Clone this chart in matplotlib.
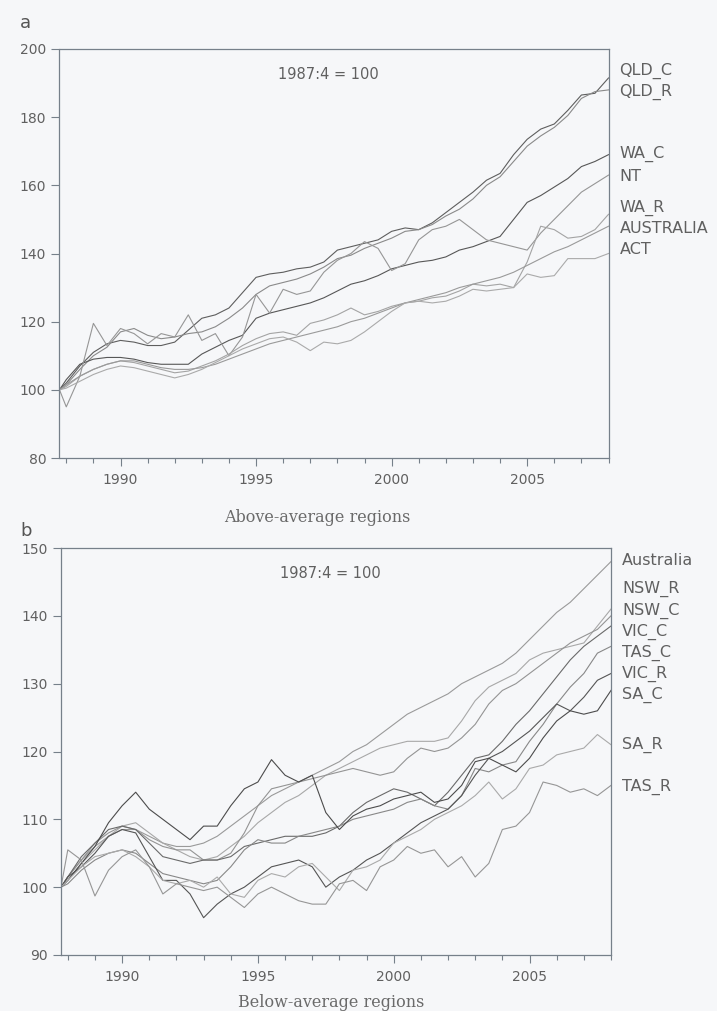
import numpy as np
import matplotlib
matplotlib.use("Agg")
import matplotlib.pyplot as plt
from matplotlib.ticker import MultipleLocator, FixedLocator
import matplotlib.transforms as mtransforms

# half-yearly observations, 1987:4 = 100
years = [1987.75] + list(np.arange(1988.0, 2008.01, 0.5))

australia = [100, 101.5, 104, 106, 107.5, 108.5, 108.5, 107.5, 106.5, 106,
             106, 106.5, 107.5, 109, 110.5, 112, 113.5, 114.5, 115.5, 116.5,
             117.5, 118.5, 120, 121, 122.5, 124, 125.5, 126.5, 127.5, 128.5,
             130, 131, 132, 133, 134.5, 136.5, 138.5, 140.5, 142, 144,
             146, 148]

# panel a - above-average regions
qld_c = [100, 102, 107, 111, 113.5, 114.5, 114, 113, 113, 114,
         117.5, 121, 122, 124, 128.5, 133, 134, 134.5, 135.5, 136,
         137.5, 141, 142, 143, 144, 146.5, 147.5, 147, 149, 152,
         155, 158, 161.5, 163.5, 169, 173.5, 176.5, 178, 182, 186.5,
         187, 191.5]
qld_r = [100, 101.5, 106, 110, 112.5, 117, 118, 116, 115, 115.5,
         116.5, 117, 118.5, 121, 124, 128, 130.5, 131.5, 132.5, 134,
         136, 138.5, 139.5, 141.5, 143, 144.5, 146.5, 147, 148.5, 151,
         153, 156, 160, 162.5, 167, 171.5, 174.5, 177, 180.5, 185.5,
         187.5, 188]
nt = [100, 95, 104, 119.5, 113, 118, 116.5, 113.5, 116.5, 115.5,
      122, 114.5, 116.5, 110, 115.5, 128, 122.5, 129.5, 128, 129,
      134.5, 138, 140, 143.5, 141.5, 135, 137, 144, 147, 148,
      150, 147, 144, 143, 142, 141, 146, 150, 154, 158,
      160.5, 163]
wa_c = [100, 103, 107.5, 109, 109.5, 109.5, 109, 108, 107.5, 107.5,
        107.5, 110.5, 112.5, 114.5, 116, 121, 122.5, 123.5, 124.5, 125.5,
        127, 129, 131, 132, 133.5, 135.5, 136.5, 137.5, 138, 139,
        141, 142, 143.5, 145, 150, 155, 157, 159.5, 162, 165.5,
        167, 169]
wa_r = [100, 101, 104, 106, 107.5, 108.5, 108, 107, 106, 105,
        105.5, 107, 108.5, 110.5, 113, 115, 116.5, 117, 116, 119.5,
        120.5, 122, 124, 122, 123, 124.5, 125.5, 126, 127, 127.5,
        129, 131, 130.5, 131, 130, 137.5, 148, 147, 144.5, 145,
        147, 151.5]
act = [100, 100.5, 102.5, 104.5, 106, 107, 106.5, 105.5, 104.5, 103.5,
       104.5, 106, 108, 110, 112, 113.5, 115, 115.5, 114, 111.5,
       114, 113.5, 114.5, 117, 120, 123, 125.5, 126, 125.5, 126,
       127.5, 129.5, 129, 129.5, 130, 134, 133, 133.5, 138.5, 138.5,
       138.5, 140]

# panel b - below-average regions
nsw_r = [100, 101, 103.5, 105.5, 107.5, 109, 109.5, 108, 106.5, 105.5,
         104.5, 104, 104.5, 106, 107.5, 109.5, 111, 112.5, 113.5, 115,
         116.5, 117.5, 118.5, 119.5, 120.5, 121, 121.5, 121.5, 121.5, 122,
         124.5, 127.5, 129.5, 130.5, 131.5, 133.5, 134.5, 135, 135.5, 136,
         138.5, 141]
nsw_c = [100, 101.5, 104, 106.5, 108, 109, 108.5, 107, 106, 105.5,
         105.5, 104, 104, 105, 108, 112, 114.5, 115, 115.5, 116,
         116.5, 117, 117.5, 117, 116.5, 117, 119, 120.5, 120, 120.5,
         122, 124, 127, 129, 130, 131.5, 133, 134.5, 136, 137,
         138, 140]
vic_c = [100, 101.5, 104.5, 106.5, 108.5, 109, 108.5, 106.5, 104.5, 104,
         103.5, 104, 104, 104.5, 106, 106.5, 107, 107.5, 107.5, 107.5,
         108, 109, 111, 112.5, 113.5, 114.5, 114, 113, 112, 114,
         116.5, 119, 119.5, 121.5, 124, 126, 128.5, 131, 133.5, 135.5,
         137, 138.5]
tas_c = [100, 100.5, 102.5, 104, 105, 105.5, 105, 103.5, 102, 101.5,
         101, 100.5, 101, 103, 105.5, 107, 106.5, 106.5, 107.5, 108,
         108.5, 109, 110, 110.5, 111, 111.5, 112.5, 113, 112, 111.5,
         113.5, 117.5, 117, 118, 118.5, 121.5, 124, 127, 129.5, 131.5,
         134.5, 135.5]
vic_r = [100, 101.5, 103, 105, 107.5, 108.5, 108, 104.5, 101, 101,
         99, 95.5, 97.5, 99, 100, 101.5, 103, 103.5, 104, 103,
         100, 101.5, 102.5, 104, 105, 106.5, 108, 109.5, 110.5, 111.5,
         113.5, 116.5, 119, 120, 121.5, 123, 125, 127, 126, 128,
         130.5, 131.5]
sa_c = [100, 101, 103.5, 106, 109.5, 112, 114, 111.5, 110, 108.5,
        107, 109, 109, 112, 114.5, 115.5, 118.8, 116.5, 115.5, 116.5,
        111, 108.5, 110.5, 111.5, 112, 113, 113.5, 114, 112.5, 113,
        115, 118.5, 119, 118, 117, 119, 122, 124.5, 126, 125.5,
        126, 129]
sa_r = [100, 101, 103, 104.5, 105, 105.5, 104.5, 103, 101, 100.5,
        101, 100, 101.5, 99, 98.5, 101, 102, 101.5, 103, 103.5,
        101.5, 99.5, 102.5, 103, 104, 106.5, 107.5, 108.5, 110, 111,
        112, 113.5, 115.5, 113, 114.5, 117.5, 118, 119.5, 120, 120.5,
        122.5, 121]
tas_r = [100, 105.5, 104, 98.7, 102.5, 104.5, 105.5, 103, 99, 100.5,
         100, 99.5, 100, 98.5, 97, 99, 100, 99, 98, 97.5,
         97.5, 100.5, 101, 99.5, 103, 104, 106, 105, 105.5, 103,
         104.5, 101.5, 103.5, 108.5, 109, 111, 115.5, 115, 114, 114.5,
         113.5, 115]

series_a = [qld_c, qld_r, wa_c, nt, wa_r, australia, act]
colors_a = ['#5e5e5e', '#8a8a8a', '#575757', '#969696', '#a4a4a4', '#9a9a9a', '#aaaaaa']
labels_a = ['QLD_C', 'QLD_R', 'WA_C', 'NT', 'WA_R', 'AUSTRALIA', 'ACT']
label_y_a = [193.5, 187.4, 169.2, 162.7, 153.3, 147.2, 141.3]

series_b = [australia, nsw_r, nsw_c, vic_c, tas_c, vic_r, sa_c, sa_r, tas_r]
colors_b = ['#9a9a9a', '#a8a8a8', '#949494', '#6a6a6a', '#888888', '#555555', '#4c4c4c', '#aaaaaa', '#969696']
labels_b = ['Australia', 'NSW_R', 'NSW_C', 'VIC_C', 'TAS_C', 'VIC_R', 'SA_C', 'SA_R', 'TAS_R']
label_y_b = [148.1, 143.9, 140.8, 137.6, 134.5, 131.5, 128.3, 120.9, 114.8]

bg = '#f6f7f9'
axis_col = '#76808a'
text_col = '#606060'
plt.rcParams['font.family'] = ['DejaVu Sans']

fig = plt.figure(figsize=(7.17, 10.11), dpi=100, facecolor=bg)
W, H = 717.0, 1011.0
ax_a = fig.add_axes([59.5 / W, 1 - 458 / H, 549 / W, 409 / H], facecolor=bg)
ax_b = fig.add_axes([61 / W, 1 - 955 / H, 550 / W, 407 / H], facecolor=bg)


def style_axes(ax, ylim, ystep, xlabel, label_x, label_y):
    ax.set_xlim(1987.75, 2008.0)
    ax.set_ylim(*ylim)
    ax.yaxis.set_major_locator(MultipleLocator(ystep))
    ax.xaxis.set_major_locator(FixedLocator([1990, 1995, 2000, 2005]))
    ax.xaxis.set_minor_locator(MultipleLocator(1))
    for sp in ax.spines.values():
        sp.set_color(axis_col)
        sp.set_linewidth(0.9)
    ax.tick_params(axis='both', which='major', direction='out', length=6,
                   width=0.8, color=axis_col, labelcolor=text_col, labelsize=10)
    ax.tick_params(axis='x', which='minor', direction='out', length=3.5,
                   width=0.8, color=axis_col)
    ax.tick_params(axis='x', which='major', pad=5)
    ax.set_xlabel(xlabel, family=['DejaVu Serif'], fontsize=11.5, color='#6a6a6a')
    ax.xaxis.set_label_coords(label_x, label_y)
    ax.text(0.49, 0.937, '1987:4 = 100', transform=ax.transAxes,
            ha='center', va='center', fontsize=10.5, color=text_col)


style_axes(ax_a, (80, 200), 20, 'Above-average regions', 0.469, -0.124)
style_axes(ax_b, (90, 150), 10, 'Below-average regions', 0.492, -0.097)

for vals, col in zip(series_a, colors_a):
    ax_a.plot(years, vals, color=col, linewidth=0.8)
for vals, col in zip(series_b, colors_b):
    ax_b.plot(years, vals, color=col, linewidth=0.8)

for ax, labels, ys in [(ax_a, labels_a, label_y_a), (ax_b, labels_b, label_y_b)]:
    trans = mtransforms.blended_transform_factory(ax.transAxes, ax.transData)
    for lab, y in zip(labels, ys):
        ax.text(1.02, y, lab, transform=trans, ha='left', va='center',
                fontsize=11.5, color=text_col)

fig.text(20 / W, 1 - 23 / H, 'a', fontsize=13, color='#555555', va='center')
fig.text(20 / W, 1 - 531 / H, 'b', fontsize=13, color='#555555', va='center')

fig.savefig('out.png', dpi=100, facecolor=bg)
